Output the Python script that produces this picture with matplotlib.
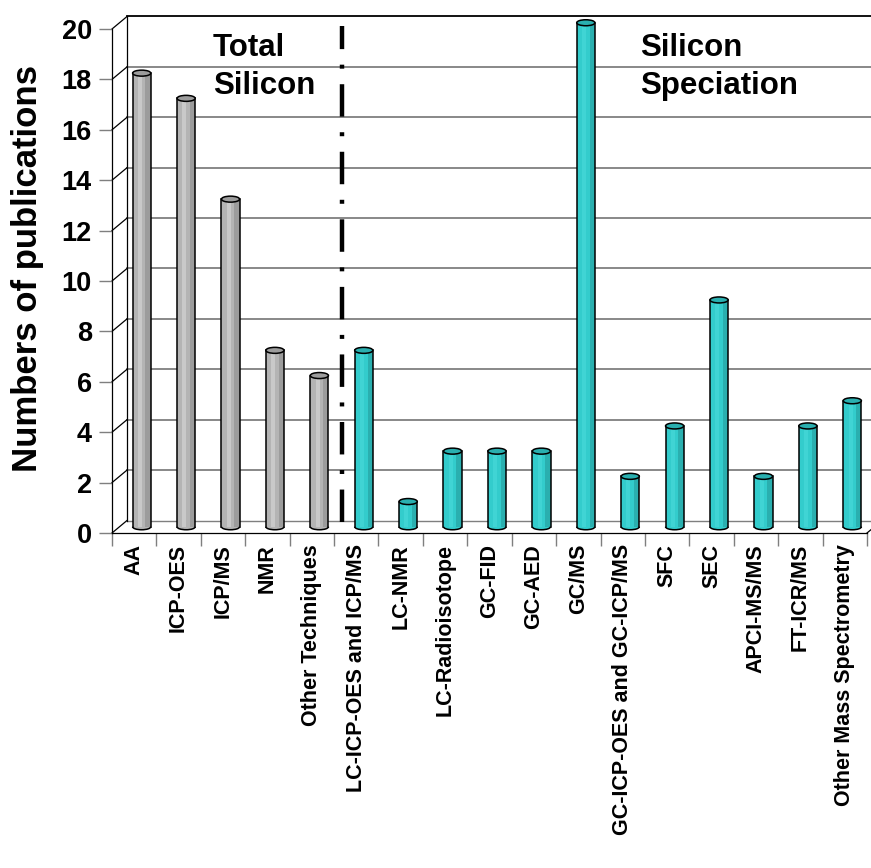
import numpy as np
import matplotlib
matplotlib.use("Agg")
import matplotlib.pyplot as plt
from matplotlib.patches import Ellipse, Arc

plt.rcParams["font.family"] = ["Liberation Sans", "DejaVu Sans"]
plt.rcParams["font.weight"] = "bold"

categories = [
    "AA", "ICP-OES", "ICP/MS", "NMR", "Other Techniques",
    "LC-ICP-OES and ICP/MS", "LC-NMR", "LC-Radioisotope", "GC-FID", "GC-AED",
    "GC/MS", "GC-ICP-OES and GC-ICP/MS", "SFC", "SEC", "APCI-MS/MS",
    "FT-ICR/MS", "Other Mass Spectrometry",
]
values = [18, 17, 13, 7, 6, 7, 1, 3, 3, 3, 20, 2, 4, 9, 2, 4, 5]
n_total = 5  # first five bars are "Total Silicon"
y_ticks = list(range(0, 21, 2))

W, H = 871, 868
fig = plt.figure(figsize=(W / 100, H / 100), dpi=100)
left, right, bottom, top = 112, 867, 533, 29
ax = fig.add_axes([left / W, (H - bottom) / H, (right - left) / W, (bottom - top) / H])
n = len(categories)
ax.set_xlim(-0.5, n - 0.5)
ax.set_ylim(0, 20)

# depth of the fake 3-D wall, in data units
px_x = (right - left) / n
px_y = (bottom - top) / 20
DX = 15 / px_x
DY = 12.5 / px_y

for y in y_ticks:
    c = "black" if y == 20 else "#7f7f7f"
    ax.plot([-0.5 + DX, n - 0.5 + DX], [y + DY, y + DY], color=c, lw=1.3 if y else 1.0,
            clip_on=False, zorder=1)
    ax.plot([-0.5, -0.5 + DX], [y, y + DY], color="black", lw=0.9, clip_on=False, zorder=1)
ax.plot([-0.5 + DX, -0.5 + DX], [DY, 20 + DY], color="black", lw=0.9, clip_on=False, zorder=1)
ax.plot([n - 0.5, n - 0.5 + DX], [0, DY], color="black", lw=0.9, clip_on=False, zorder=1)

# cylinders
bw = 0.41
eh = 6 / px_y
pal = {
    "gray": ("#b4b4b4", "#c9c9c9", "#9c9c9c"),
    "teal": ("#33cccc", "#40d4d4", "#2aafaf"),
}
for i, v in enumerate(values):
    base, light, dark = pal["gray"] if i < n_total else pal["teal"]
    cx = i + DX / 2
    b0 = DY / 2
    ax.add_patch(Ellipse((cx, b0), bw, eh, facecolor=base, edgecolor="none", zorder=3,
                         clip_on=False))
    ax.bar(cx, v, width=bw, bottom=b0, color=base, edgecolor="none", zorder=3, clip_on=False)
    ax.bar(cx - 0.04, v, width=0.09, bottom=b0, color=light, edgecolor="none", zorder=3,
           clip_on=False)
    ax.bar(cx + 0.145, v, width=0.12, bottom=b0, color=dark, edgecolor="none", zorder=3,
           clip_on=False)
    ax.plot([cx - bw / 2, cx - bw / 2], [b0, b0 + v], color="black", lw=1.1, zorder=4,
            clip_on=False)
    ax.plot([cx + bw / 2, cx + bw / 2], [b0, b0 + v], color="black", lw=1.1, zorder=4,
            clip_on=False)
    ax.add_patch(Arc((cx, b0), bw, eh, theta1=180, theta2=360, color="black", lw=1.1,
                     zorder=4, clip_on=False))
    ax.add_patch(Ellipse((cx, b0 + v), bw, eh, facecolor=dark, edgecolor="black", lw=1.1,
                         zorder=5, clip_on=False))

# separator between the two groups
ax.plot([n_total - 0.5 + DX / 2] * 2, [0.45, 20.1], color="black", lw=3.2,
        ls=(0, (7.3, 3.5, 0.9, 3.5)), dash_capstyle="butt", clip_on=False, zorder=2)

for s in ["top", "right"]:
    ax.spines[s].set_visible(False)
for s in ["left", "bottom"]:
    ax.spines[s].set_linewidth(0.9)
    ax.spines[s].set_zorder(6)

ax.set_yticks(y_ticks)
ax.set_yticklabels([str(t) for t in y_ticks], fontsize=19.5, fontweight="bold")
ax.tick_params(axis="y", length=9.5, width=1, color="#7f7f7f", pad=5)
ax.set_xticks(np.arange(n + 1) - 0.5)
ax.set_xticklabels([])
ax.tick_params(axis="x", which="major", length=9, width=1, color="#7f7f7f")
ax.set_xticks(np.arange(n), minor=True)
ax.set_xticklabels(categories, minor=True, rotation=90, fontsize=15.5, fontweight="bold",
                   va="top", ha="center")
ax.tick_params(axis="x", which="minor", length=0, pad=8)

fig.text(28 / W, (H - 268) / H, "Numbers of publications", rotation=90, fontsize=25,
         fontweight="bold", ha="center", va="center")
fig.text(213 / W, 1 - 33 / H, "Total\nSilicon", fontsize=22.5, fontweight="bold",
         ha="left", va="top", linespacing=1.35)
fig.text(640 / W, 1 - 33 / H, "Silicon\nSpeciation", fontsize=22.5, fontweight="bold",
         ha="left", va="top", linespacing=1.35)

fig.savefig("out.png", dpi=100)
